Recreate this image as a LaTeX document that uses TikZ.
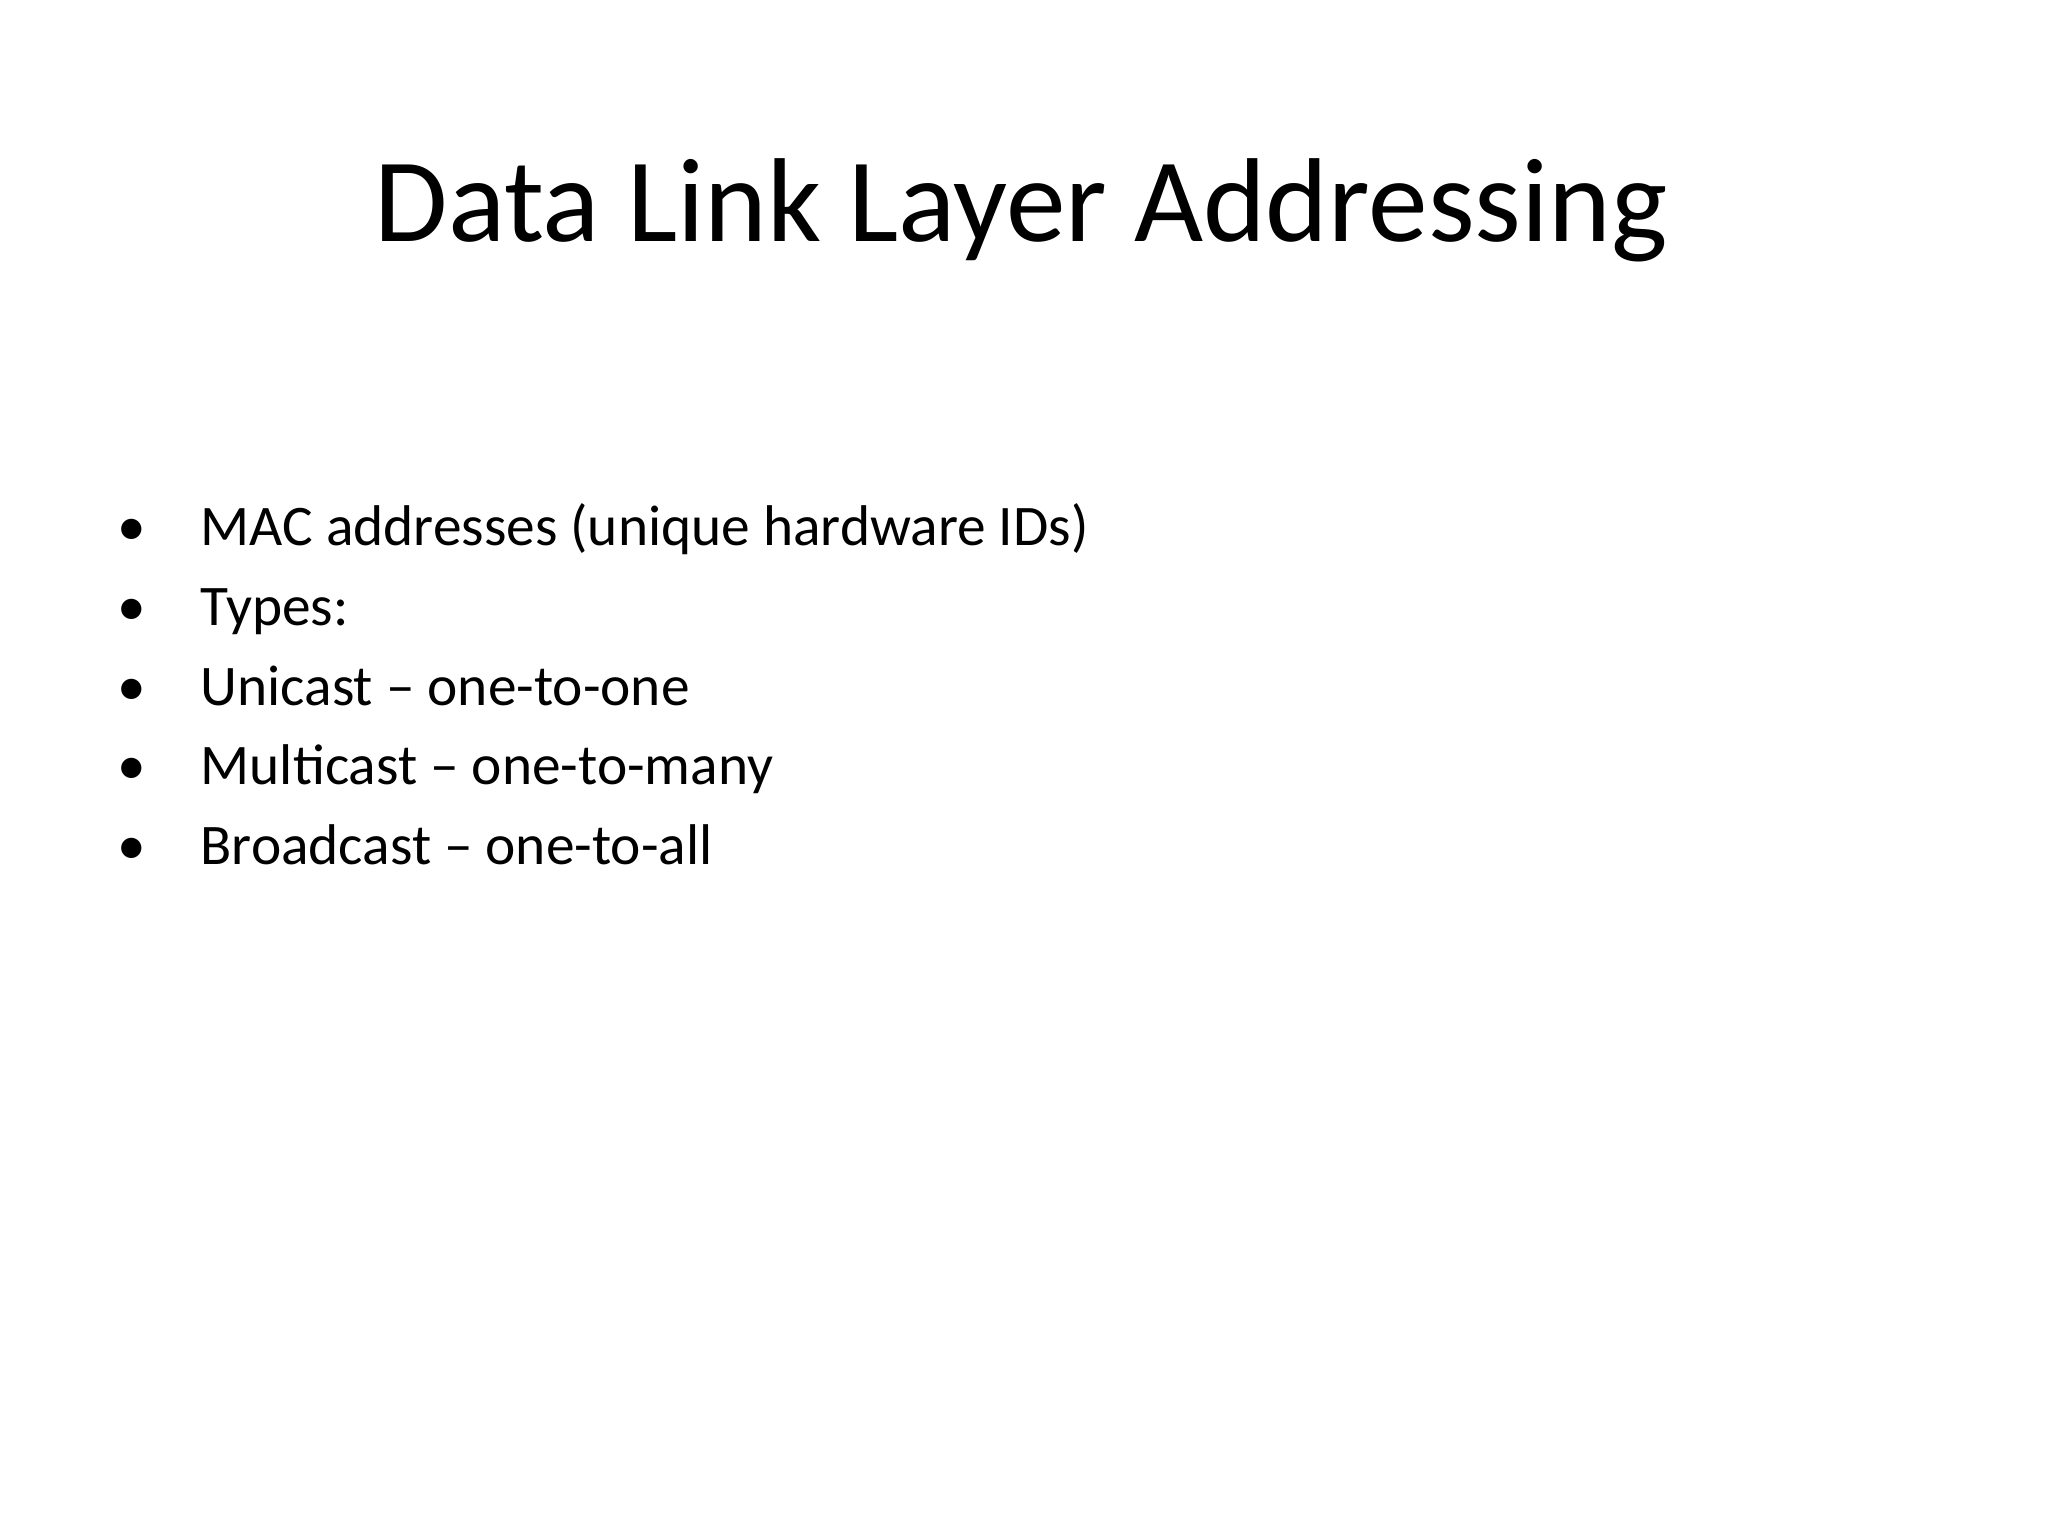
\documentclass[tikz,border=0pt]{standalone}
\usepackage{fontspec}
\setmainfont{Carlito}
\begin{document}
\begin{tikzpicture}[x=1mm,y=-1mm,
  title/.style={anchor=base,font=\fontsize{26}{30}\selectfont,inner sep=0},
  item/.style={anchor=base west,font=\fontsize{12.5}{15}\selectfont,inner sep=0},
  dot/.style={anchor=base,font=\fontsize{12.5}{15}\selectfont,inner sep=0}]
\useasboundingbox (0,0) rectangle (156.8,117.6);
\node[title] (t) at (78.2,18.5) {Data Link Layer Addressing};
\foreach \i/\txt in {0/{MAC addresses (unique hardware IDs)},1/{Types:},2/{Unicast – one-to-one},3/{Multicast – one-to-many},4/{Broadcast – one-to-all}}{
  \node[dot] (b\i) at (10.1,41.8+6.1*\i) {•};
  \node[item] (l\i) at (15.3,41.8+6.1*\i) {\txt};
}
\end{tikzpicture}
\end{document}
